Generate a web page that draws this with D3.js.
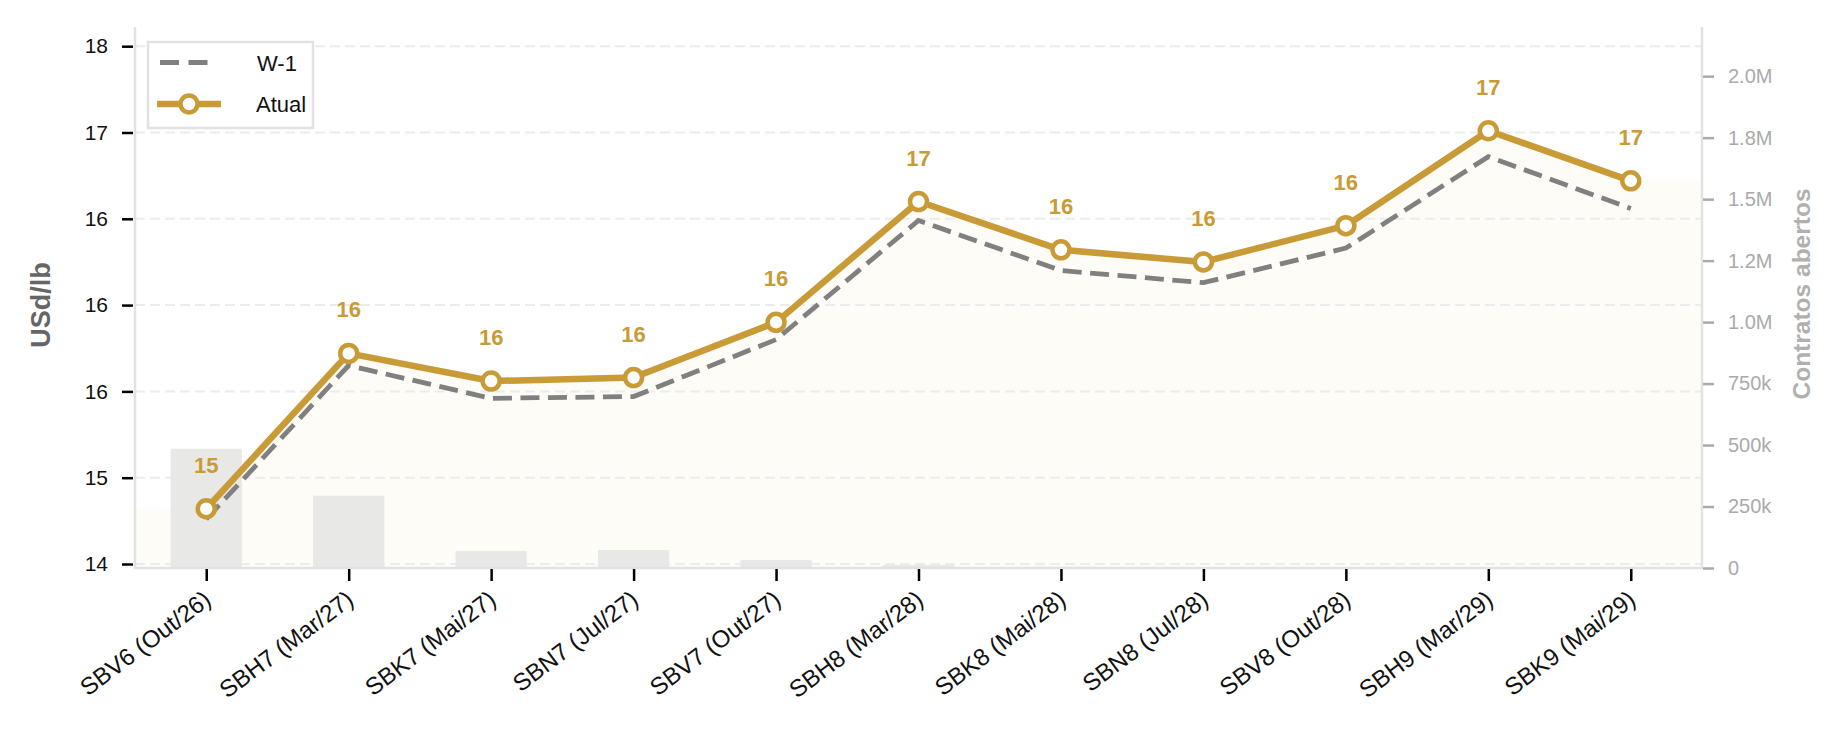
<!DOCTYPE html>
<html><head><meta charset="utf-8">
<script src="https://cdn.jsdelivr.net/npm/d3@7"></script>
<style>html,body{margin:0;padding:0;background:#fff;}svg{display:block;font-family:"Liberation Sans",Arial,sans-serif;}</style>
</head><body>
<svg id="chart" width="1846" height="734"></svg>
<script>
const categories = ["SBV6 (Out/26)", "SBH7 (Mar/27)", "SBK7 (Mai/27)", "SBN7 (Jul/27)", "SBV7 (Out/27)", "SBH8 (Mar/28)", "SBK8 (Mai/28)", "SBN8 (Jul/28)", "SBV8 (Out/28)", "SBH9 (Mar/29)", "SBK9 (Mai/29)"];
const atual = [14.32, 15.22, 15.06, 15.08, 15.40, 16.10, 15.82, 15.75, 15.96, 16.51, 16.22];
const w1 = [14.26, 15.15, 14.96, 14.97, 15.30, 15.99, 15.70, 15.63, 15.83, 16.36, 16.06];
const atualLabels = ["15", "16", "16", "16", "16", "17", "16", "16", "16", "17", "17"];
const openInterest = [485000, 294000, 69000, 73000, 33000, 12000, 5000, 4000, 2000, 1000, 500];
const yTicks = [14, 14.5, 15, 15.5, 16, 16.5, 17];
const yTickLabels = ["14", "15", "16", "16", "16", "17", "18"];
const y2Ticks = [0, 250000, 500000, 750000, 1000000, 1250000, 1500000, 1750000, 2000000];
const y2TickLabels = ["0", "250k", "500k", "750k", "1.0M", "1.2M", "1.5M", "1.8M", "2.0M"];

const GOLD = "#c89b36", GRAY = "#808080";
const L = 135, R = 1702, T = 27, B = 568;
const svg = d3.select("#chart");

const x = d3.scalePoint().domain(categories).range([L, R]).padding(0.5);
const step = x.step();
const y = d3.scaleLinear().domain([13.9768, 17.1112]).range([B, T]);
const y2 = d3.scaleLinear().domain([0, 2200000]).range([B, T]);

// faint fill under the "Atual" curve, held flat out to the plot edges
const fillPts = [[L, atual[0]]]
  .concat(atual.map((v, i) => [x(categories[i]), v]))
  .concat([[R, atual[atual.length - 1]]]);
const area = d3.area().x(d => d[0]).y0(B).y1(d => y(d[1]));
svg.append("path").datum(fillPts).attr("d", area).attr("fill", "#fdfcf7");

// grid
svg.append("g").selectAll("line").data(yTicks).join("line")
  .attr("x1", L).attr("x2", R)
  .attr("y1", d => y(d)).attr("y2", d => y(d))
  .attr("stroke", "#ececec").attr("stroke-width", 2).attr("stroke-dasharray", "10,5");

// open-interest bars
svg.append("g").selectAll("rect").data(openInterest).join("rect")
  .attr("x", (d, i) => x(categories[i]) - step * 0.25)
  .attr("width", step * 0.5)
  .attr("y", d => y2(d))
  .attr("height", d => B - y2(d))
  .attr("fill", "#e8e8e6");

// spines
svg.append("line").attr("x1", L).attr("x2", L).attr("y1", T).attr("y2", B + 1).attr("stroke", "#e2e2e2").attr("stroke-width", 2.5);
svg.append("line").attr("x1", L).attr("x2", R).attr("y1", B).attr("y2", B).attr("stroke", "#e2e2e2").attr("stroke-width", 2.5);
svg.append("line").attr("x1", R).attr("x2", R).attr("y1", T).attr("y2", B + 1).attr("stroke", "#e2e2e2").attr("stroke-width", 2.5);

// left axis
const yAxis = d3.axisLeft(y).tickValues(yTicks).tickSize(11).tickPadding(14)
  .tickFormat((d, i) => yTickLabels[i]);
const gy = svg.append("g").attr("transform", `translate(${L - 2},0)`).call(yAxis);
gy.select(".domain").remove();
gy.selectAll(".tick line").attr("stroke", "#000").attr("stroke-width", 2.5);
gy.selectAll(".tick text").attr("font-size", 21).attr("fill", "#111").attr("font-family", "Liberation Sans, Arial, sans-serif");

// right axis
const y2Axis = d3.axisRight(y2).tickValues(y2Ticks).tickSize(11).tickPadding(14)
  .tickFormat((d, i) => y2TickLabels[i]);
const gy2 = svg.append("g").attr("transform", `translate(${R + 1},0)`).call(y2Axis);
gy2.select(".domain").remove();
gy2.selectAll(".tick line").attr("stroke", "#aaaaaa").attr("stroke-width", 2.5);
gy2.selectAll(".tick text").attr("font-size", 20).attr("fill", "#aaaaaa").attr("font-family", "Liberation Sans, Arial, sans-serif");

// x axis
const xAxis = d3.axisBottom(x).tickSize(12).tickFormat("");
const gx = svg.append("g").attr("transform", `translate(0,${B + 1})`).call(xAxis);
gx.select(".domain").remove();
gx.selectAll(".tick line").attr("stroke", "#000").attr("stroke-width", 2.5);
svg.append("g").selectAll("text").data(categories).join("text")
  .attr("transform", d => `translate(${x(d) - 4},${B + 21}) rotate(-37)`)
  .attr("text-anchor", "end").attr("dy", "0.72em")
  .attr("font-size", 24).attr("fill", "#111").text(d => d);

// axis titles
svg.append("text").attr("transform", "translate(50,305) rotate(-90)").attr("text-anchor", "middle")
  .attr("font-size", 27).attr("font-weight", "bold").attr("fill", "#666").text("USd/lb");
svg.append("text").attr("transform", "translate(1810,294) rotate(-90)").attr("text-anchor", "middle")
  .attr("font-size", 24.5).attr("font-weight", "bold").attr("fill", "#b0b0b0").text("Contratos abertos");

// W-1 dashed line
const line = d3.line().x((d, i) => x(categories[i])).y(d => y(d));
svg.append("path").datum(w1).attr("d", line).attr("fill", "none")
  .attr("stroke", GRAY).attr("stroke-width", 4.8).attr("stroke-dasharray", "19,8.5");

// Atual
svg.append("path").datum(atual).attr("d", line).attr("fill", "none")
  .attr("stroke", GOLD).attr("stroke-width", 6.5).attr("stroke-linejoin", "round");
svg.append("g").selectAll("circle").data(atual).join("circle")
  .attr("cx", (d, i) => x(categories[i])).attr("cy", d => y(d)).attr("r", 8.5)
  .attr("fill", "#fff").attr("stroke", GOLD).attr("stroke-width", 4.5);
svg.append("g").selectAll("text").data(atual).join("text")
  .attr("x", (d, i) => x(categories[i])).attr("y", d => y(d) - 36)
  .attr("text-anchor", "middle").attr("font-size", 22).attr("font-weight", "bold").attr("fill", GOLD)
  .text((d, i) => atualLabels[i]);

// legend
const lg = svg.append("g");
lg.append("rect").attr("x", 148).attr("y", 42).attr("width", 165).attr("height", 86)
  .attr("fill", "#fff").attr("stroke", "#e2e2e2").attr("stroke-width", 2.5);
lg.append("line").attr("x1", 160).attr("x2", 212).attr("y1", 62.5).attr("y2", 62.5)
  .attr("stroke", GRAY).attr("stroke-width", 4.8).attr("stroke-dasharray", "19,9.5");
lg.append("text").attr("x", 257).attr("y", 71).attr("font-size", 22).attr("fill", "#111").text("W-1");
lg.append("line").attr("x1", 157).attr("x2", 221).attr("y1", 104).attr("y2", 104)
  .attr("stroke", GOLD).attr("stroke-width", 6.5);
lg.append("circle").attr("cx", 189).attr("cy", 104).attr("r", 8.5)
  .attr("fill", "#fff").attr("stroke", GOLD).attr("stroke-width", 4.5);
lg.append("text").attr("x", 256).attr("y", 112).attr("font-size", 22).attr("fill", "#111").text("Atual");
</script>
</body></html>
